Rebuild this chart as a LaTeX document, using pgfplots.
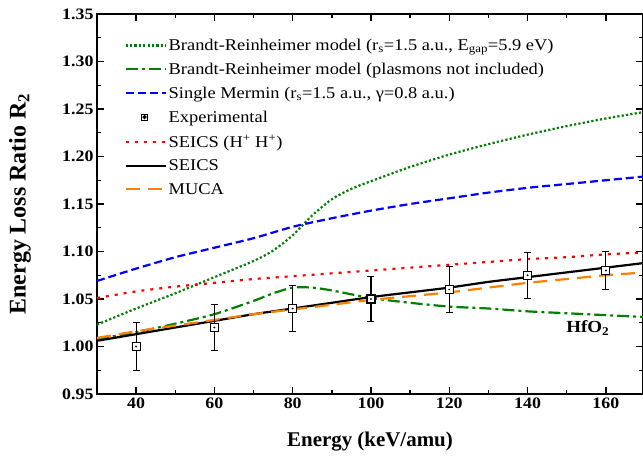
\documentclass[border=0pt]{standalone}
\usepackage{fontspec}
\setmainfont{Liberation Serif}[FakeStretch=1.12]
\newfontfamily\plainserif{Liberation Serif}
\usepackage{pgfplots}
\pgfplotsset{compat=1.18}

\definecolor{brgreen}{RGB}{0,128,0}
\definecolor{mblue}{RGB}{0,0,255}
\definecolor{sred}{RGB}{255,0,0}
\definecolor{morange}{RGB}{255,128,0}

\begin{document}
\begin{tikzpicture}[x=1bp,y=1bp]
\begin{axis}[
  scale only axis,
  width=546bp, height=380bp,
  xmin=30, xmax=169.5, ymin=0.95, ymax=1.35,
  xtick={40,60,...,160}, minor x tick num=1,
  ytick={0.95,1.00,...,1.35}, minor y tick num=1,
  yticklabel style={/pgf/number format/.cd,fixed,fixed zerofill,precision=2},
  /pgf/number format/assume math mode=true,
  tick label style={font=\fontsize{16}{18}\selectfont\bfseries},
  xlabel={Energy (keV/amu)},
  ylabel={Energy Loss Ratio R\textsubscript{2}},
  xlabel style={font=\plainserif\fontsize{21}{23}\selectfont\bfseries,
    at={(axis description cs:0.5,-0.124)}, anchor=center},
  ylabel style={font=\plainserif\fontsize{24}{26}\selectfont\bfseries,
    at={(axis description cs:-0.141,0.5)}, anchor=center},
  axis line style={line width=1.6bp},
  major tick length=7bp, minor tick length=4bp,
  every tick/.style={black, line width=1.4bp},
  legend style={font=\fontsize{16.5}{19}\selectfont, draw=none, fill=none,
    at={(0.05,0.94)}, anchor=north west, row sep=7bp,
    inner sep=0bp},
  legend cell align=left,
  legend image post style={line width=2.2bp},
  legend image code/.code={\draw[#1] (0bp,0bp) -- (40bp,0bp);},
  every axis plot/.append style={smooth, tension=0.4},
]
\addplot[brgreen, line width=2.2bp, dash pattern=on 2.2bp off 2.2bp] coordinates {
 (30,1.023) (40,1.040) (50,1.056) (60,1.073) (70,1.090) (75,1.101) (80,1.117)
 (85,1.138) (90,1.155) (95,1.166) (100,1.174) (110,1.189) (120,1.202)
 (130,1.213) (140,1.223) (150,1.232) (160,1.240) (170,1.247)};
\addlegendentry{Brandt-Reinheimer model (r\textsubscript{s}=1.5 a.u., E\textsubscript{gap}=5.9 eV)}

\addplot[brgreen, line width=2.2bp, dash pattern=on 12bp off 4bp on 3bp off 4bp] coordinates {
 (30,1.008) (40,1.015) (50,1.024) (60,1.034) (70,1.048) (75,1.056) (80,1.062)
 (85,1.062) (90,1.059) (100,1.051) (110,1.046) (120,1.042) (130,1.040)
 (140,1.037) (150,1.035) (160,1.033) (170,1.031)};
\addlegendentry{Brandt-Reinheimer model (plasmons not included)}

\addplot[mblue, line width=2.2bp, dash pattern=on 8bp off 4bp] coordinates {
 (30,1.069) (40,1.082) (50,1.094) (60,1.104) (70,1.114) (80,1.126) (90,1.135)
 (100,1.143) (110,1.150) (120,1.156) (130,1.162) (140,1.167) (150,1.171)
 (160,1.175) (170,1.179)};
\addlegendentry{Single Mermin (r\textsubscript{s}=1.5 a.u., γ=0.8 a.u.)}

\addlegendimage{legend image code/.code={
    \draw[black, line width=1.1bp, fill=white] (16bp,-3bp) rectangle (22bp,3bp);
    \fill[black] (19bp,0bp) circle (0.7bp);}}
\addlegendentry{Experimental}

\addplot[sred, line width=2.2bp, dash pattern=on 3bp off 6bp] coordinates {
 (30,1.051) (40,1.058) (50,1.063) (60,1.067) (70,1.071) (80,1.074) (90,1.077)
 (100,1.080) (110,1.083) (120,1.086) (130,1.089) (140,1.092) (150,1.094)
 (160,1.097) (170,1.099)};
\addlegendentry{SEICS (H\textsuperscript{+} H\textsuperscript{+})}

\addplot[black, line width=2.2bp] coordinates {
 (30,1.006) (40,1.013) (50,1.020) (60,1.027) (70,1.034) (80,1.040) (90,1.046)
 (100,1.052) (110,1.057) (120,1.062) (130,1.068) (140,1.073) (150,1.078)
 (160,1.083) (170,1.088)};
\addlegendentry{SEICS}

\addplot[morange, line width=2.2bp, dash pattern=on 14bp off 8bp] coordinates {
 (30,1.009) (40,1.016) (50,1.022) (60,1.028) (70,1.034) (80,1.039) (90,1.044)
 (100,1.049) (110,1.053) (120,1.057) (130,1.062) (140,1.067) (150,1.071)
 (160,1.075) (170,1.078)};
\addlegendentry{MUCA}

\addplot[only marks, forget plot, black, mark=square*, mark size=4bp,
  mark options={fill=white, line width=1.2bp},
  error bars/.cd, y dir=both, y explicit,
  error bar style={line width=1.1bp},
  error mark options={rotate=90, mark size=3.5bp, line width=1.1bp}]
  coordinates {
 (40,1.000) +- (0,0.025)
 (60,1.020) +- (0,0.024)
 (80,1.040) +- (0,0.024)
 (100,1.050) +- (0,0.024)
 (120,1.060) +- (0,0.024)
 (140,1.075) +- (0,0.024)
 (160,1.080) +- (0,0.020)};

\addplot[only marks, forget plot, black, mark=*, mark size=0.7bp] coordinates {
 (40,1.000) (60,1.020) (80,1.040) (100,1.050) (120,1.060) (140,1.075) (160,1.080)};

\node[font=\fontsize{17}{19}\selectfont\bfseries] at (axis cs:155.4,1.0195) {HfO\textsubscript{2}};
\end{axis}
\pgfresetboundingbox
\path (-97bp,-70bp) rectangle (546bp,394bp);
\end{tikzpicture}
\end{document}
